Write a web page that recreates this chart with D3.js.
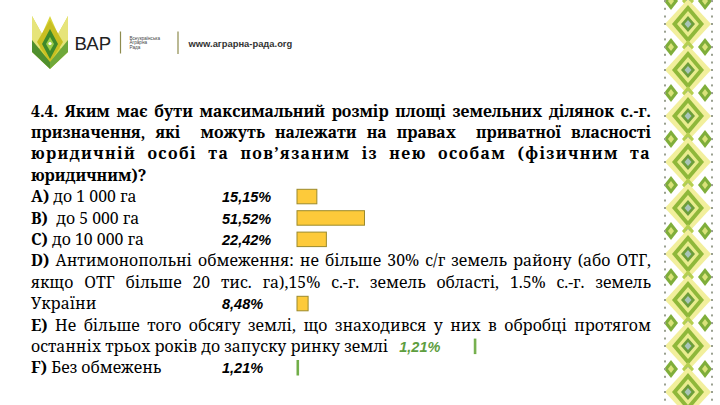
<!DOCTYPE html>
<html><head><meta charset="utf-8">
<script src="https://cdn.jsdelivr.net/npm/d3@7"></script>
<style>html,body{margin:0;padding:0;background:#fff;overflow:hidden} svg{display:block}</style>
</head><body><svg id="c" width="720" height="405"></svg>
<script>
// ---------- data ----------
const categories = ["A)", "B)", "C)", "D)", "E)", "F)"];
const values = [15.15, 51.52, 22.42, 8.48, 1.21, 1.21];
const answerLines = [
  ["до 1 000 га"],
  [" до 5 000 га"],
  ["до 10 000 га"],
  ["Антимонопольні обмеження: не більше 30% с/г земель району (або ОТГ,",
   "якщо ОТГ більше 20 тис. га),15% с.-г. земель області, 1.5% с.-г. земель",
   "України"],
  ["Не більше того обсягу землі, що знаходився у них в обробці протягом",
   "останніх трьох років до запуску ринку землі"],
  ["Без обмежень"]
];
const titleLines = [
  "4.4. Яким має бути максимальний розмір площі земельних ділянок с.-г.",
  "призначення, які   можуть належати на правах   приватної власності",
  "юридичній особі та пов’язаним із нею особам (фізичним та",
  "юридичним)?"
];
const logoText = "ВАР";
const logoSub = ["Всеукраїнська", "Аграрна", "Рада"];
const siteText = "www.аграрна-рада.org";

// ---------- layout ----------
const svg = d3.select("#c");
const SERIF = "'Noto Serif', 'Liberation Serif', serif";
const SANS = "'Liberation Sans', Arial, sans-serif";
const FS = 15.8;
const X0 = 31, X1 = 651;
const rowY = i => 116.5 + i * 21.4;
const fmt = v => d3.format(".2f")(v).replace(".", ",") + "%";
const xScale = d3.scaleLinear().domain([0, 100]).range([0, 131]);

function styled(sel, family, size, weight, ls) {
  return sel.style("font-family", family).style("font-size", size + "px")
    .style("font-weight", weight).style("letter-spacing", (ls || 0) + "px");
}
function measure(str, weight, size, ls, family) {
  const t = styled(svg.append("text"), family || SERIF, size, weight, ls).text(str);
  const w = t.node().getComputedTextLength();
  t.remove();
  return w;
}

function drawLine(tokens, y, justify, ls, x0) {
  x0 = x0 == null ? X0 : x0;
  const g = svg.append("g");
  const words = [];
  tokens.forEach(tk => {
    tk.t.split(/( +)/).forEach(p => {
      if (p === "") return;
      if (/^ +$/.test(p)) words.push({gap: p.length > 1 ? 2 : 1});
      else words.push({t: p, bold: tk.bold});
    });
  });
  const spaceW = measure("a a", "normal", FS, 0) - measure("aa", "normal", FS, 0);
  let total = 0, gapUnits = 0;
  words.forEach(w => {
    if (w.gap) gapUnits += w.gap;
    else { w.w = measure(w.t, w.bold ? "bold" : "normal", FS, ls); total += w.w; }
  });
  let gapW = spaceW;
  if (justify && gapUnits > 0) gapW = (X1 - x0 - total) / gapUnits;
  let x = x0;
  words.forEach(w => {
    if (w.gap) { x += w.gap * gapW; return; }
    styled(g.append("text"), SERIF, FS, w.bold ? "bold" : "normal", ls)
      .attr("x", x).attr("y", y).attr("fill", "#000").text(w.t);
    x += w.w;
  });
  return x;
}

// ---------- title ----------
const titleLS = [0, 0, 1.4, 0];
titleLines.forEach((l, i) => {
  drawLine([{t: l, bold: true}], rowY(i), i < titleLines.length - 1, titleLS[i]);
});

// ---------- answers ----------
const answerRow = [4, 5, 6, 7, 10, 12];
const barRowOffset = [0, 0, 0, 2, 1, 0];
const lineEnds = [];
categories.forEach((c, ci) => {
  const lines = answerLines[ci];
  lines.forEach((l, li) => {
    const toks = li === 0 ? [{t: c, bold: true}, {t: (l.startsWith(" ") ? "  " : " ") + l.trim(), bold: false}] : [{t: l, bold: false}];
    const just = li < lines.length - 1;
    const end = drawLine(toks, rowY(answerRow[ci] + li), just, 0);
    if (li === lines.length - 1) lineEnds[ci] = end;
  });
});

// ---------- percentages and bars ----------
const LABEL_X = 222, BAR_X = 297;
const inline = ci => ci === 4;
const labelX = ci => inline(ci) ? lineEnds[ci] + 11 : LABEL_X;
const barX = ci => inline(ci) ? labelX(ci) + 75 : BAR_X;

styled(svg.append("g").selectAll("text").data(values).join("text"), SANS, 14.5, "bold", 0)
  .style("font-style", "italic")
  .attr("x", (d, i) => labelX(i))
  .attr("y", (d, i) => rowY(answerRow[i] + barRowOffset[i]))
  .attr("fill", (d, i) => inline(i) ? "#5e9e3e" : "#000")
  .text(d => fmt(d));

svg.append("g").selectAll("rect").data(values).join("rect")
  .attr("x", (d, i) => barX(i))
  .attr("y", (d, i) => rowY(answerRow[i] + barRowOffset[i]) - 12.8)
  .attr("width", d => xScale(d))
  .attr("height", 14.5)
  .attr("fill", d => d < 5 ? "#70ad47" : "#fdca3a")
  .attr("stroke", d => d < 5 ? "#70ad47" : "#9c8a2c")
  .attr("stroke-width", 1);

// ---------- logo ----------
const logo = svg.append("g");
logo.append("polygon").attr("points", "32,16 42,34 50,16 58,34 68,16 68,52 50,69 32,52").attr("fill", "#d8d63a");
logo.append("polygon").attr("points", "32,16 42,34 40,48 32,52").attr("fill", "#e6e47a");
logo.append("polygon").attr("points", "68,16 58,34 60,48 68,52").attr("fill", "#e6e47a");
logo.append("polygon").attr("points", "50,20 63,42 50,63 37,42").attr("fill", "#c9bf22");
logo.append("polygon").attr("points", "32,40 50,62 50,69 32,52").attr("fill", "#4f8f2e");
logo.append("polygon").attr("points", "68,40 50,62 50,69 68,52").attr("fill", "#6fa83a");
logo.append("polygon").attr("points", "50,29 58,44 50,59 42,44").attr("fill", "#3f8a2a");
logo.append("polygon").attr("points", "50,37 54,44 50,51 46,44").attr("fill", "#9fcf4a");
logo.append("circle").attr("cx", 50).attr("cy", 43.5).attr("r", 1.6).attr("fill", "#fff");

styled(logo.append("text"), SANS, 18.6, "normal", 0).attr("x", 74.5).attr("y", 50)
  .attr("fill", "#222").text(logoText);
logo.append("line").attr("x1", 120.5).attr("x2", 120.5).attr("y1", 31.5).attr("y2", 53.5)
  .attr("stroke", "#8e8b4e").attr("stroke-width", 1.2);
styled(logo.selectAll("text.sub").data(logoSub).join("text").attr("class", "sub"), SANS, 4.6, "normal", 0)
  .attr("x", 129.5).attr("y", (d, i) => 39.5 + i * 4.9).attr("fill", "#444").text(d => d);
logo.append("line").attr("x1", 178).attr("x2", 178).attr("y1", 31.5).attr("y2", 54)
  .attr("stroke", "#8e8b4e").attr("stroke-width", 1.2);
styled(logo.append("text"), SANS, 9.4, "bold", 0).attr("x", 188.5).attr("y", 47)
  .attr("fill", "#333").text(siteText);

// ---------- ornament strip ----------
const orn = svg.append("g");
const CX = 688, P = 46;
d3.range(-1, 10).forEach(k => {
  const y = 24 + k * P;
  const m = y + P / 2;
  orn.append("polygon").attr("points", `${CX},${y-25} ${CX+23},${y} ${CX},${y+25} ${CX-23},${y}`).attr("fill", "#f2ef9c");
  orn.append("polygon").attr("points", `${CX},${y-19} ${CX+16},${y} ${CX},${y+19} ${CX-16},${y}`).attr("fill", "#8fb83a");
  orn.append("polygon").attr("points", `${CX},${y-13} ${CX+11},${y} ${CX},${y+13} ${CX-11},${y}`).attr("fill", "#e9ec8e");
  orn.append("polygon").attr("points", `${CX},${y-8} ${CX+7},${y} ${CX},${y+8} ${CX-7},${y}`).attr("fill", "#6c9e3a");
  orn.append("polygon").attr("points", `${CX},${y-4} ${CX+3.5},${y} ${CX},${y+4} ${CX-3.5},${y}`).attr("fill", "#a9c4b8");
  [CX - 17, CX + 17].forEach(sx => {
    orn.append("polygon").attr("points", `${sx},${m-9} ${sx+7},${m} ${sx},${m+9} ${sx-7},${m}`).attr("fill", "#7fae3a");
    orn.append("polygon").attr("points", `${sx},${m-4} ${sx+3},${m} ${sx},${m+4} ${sx-3},${m}`).attr("fill", "#d9e27a");
  });
  orn.append("polygon").attr("points", `${CX},${m-7} ${CX+6},${m} ${CX},${m+7} ${CX-6},${m}`).attr("fill", "#b5cf50");
  orn.append("circle").attr("cx", CX).attr("cy", m).attr("r", 1.8).attr("fill", "#7d9e98");
  d3.range(0, P, 7.7).forEach(dy => {
    orn.append("rect").attr("x", 664).attr("y", y + dy - 1).attr("width", 2).attr("height", 2).attr("fill", "#9aa090");
    orn.append("rect").attr("x", 711).attr("y", y + dy - 1).attr("width", 2).attr("height", 2).attr("fill", "#9aa090");
  });
});
</script></body></html>
